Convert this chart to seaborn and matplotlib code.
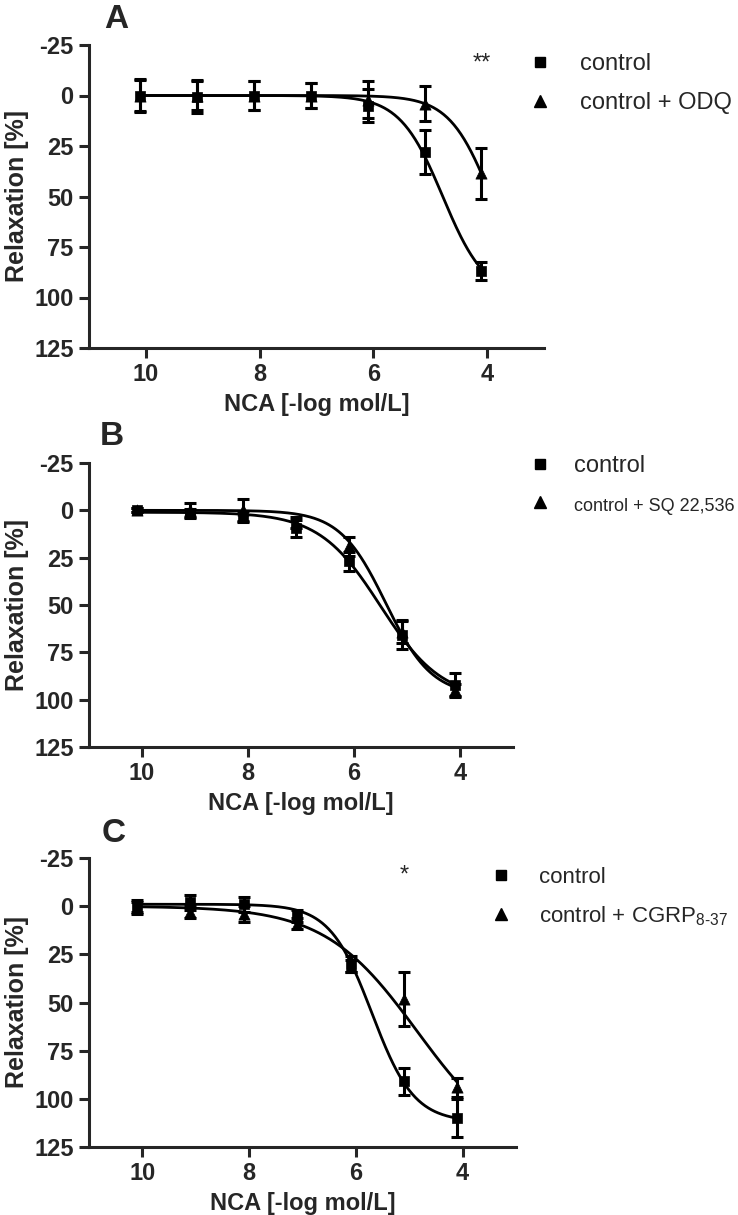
import numpy as np
import pandas as pd
import matplotlib
matplotlib.use("Agg")
import matplotlib.pyplot as plt
from matplotlib.lines import Line2D
import seaborn as sns

sns.set_style("ticks")
plt.rcParams['font.family'] = ['Liberation Sans', 'DejaVu Sans']
plt.rcParams['mathtext.fontset'] = 'custom'
plt.rcParams['mathtext.rm'] = 'Liberation Sans'
plt.rcParams['axes.unicode_minus'] = False

# doses, -log mol/L
dose = [10.1, 9.1, 8.1, 7.1, 6.1, 5.1, 4.1]

# panel A: control vs control + ODQ
a_ctrl = [0, 0.5, 0, 0, 5, 28, 87]
a_ctrl_err = [7.5, 8, 7, 6, 8, 11, 4.5]
a_trt = [0, 0, 0, 0, 2, 4, 38.5]
a_trt_err = [8, 7, 7, 6, 9, 8.5, 12.5]

# panel B: control vs control + SQ 22,536
b_ctrl = [0, 1.5, 3, 9.5, 27, 66, 92]
b_ctrl_err = [1, 2, 2.5, 4.5, 5, 7.5, 6]
b_trt = [0, 0, 0, 6.5, 19, 64, 95]
b_trt_err = [1, 4, 6, 3, 5, 6, 3.5]

# panel C: control vs control + CGRP8-37
c_ctrl = [0, -2, -1, 5, 30, 91, 110]
c_ctrl_err = [3, 4, 4, 3, 4, 7, 10]
c_trt = [1, 3, 4, 9, 31, 48, 94]
c_trt_err = [3, 3, 4, 3, 3, 14, 5]

# sigmoid fits: top, bottom, pEC50, hill
a_ctrl_fit = [0, 100, 4.78, 1.15]
a_trt_fit = [0, 100, 3.93, 1.18]
b_ctrl_fit = [1, 100, 5.5, 0.75]
b_trt_fit = [0, 98, 5.4, 1.0]
c_ctrl_fit = [-1, 112, 5.7, 1.1]
c_trt_fit = [0, 130, 4.85, 0.5]

labels_a = ["control", "control + ODQ"]
labels_b = ["control", "control + SQ 22,536"]
labels_c = ["control", "control + CGRP$_{\\mathregular{8\u201037}}$"]

W, H = 738, 1215
fig = plt.figure(figsize=(W / 100, H / 100), dpi=100)


def px_axes(l, t, r, b):
    return fig.add_axes([l / W, 1 - b / H, (r - l) / W, (b - t) / H])


def sigmoid(x, p):
    top, bottom, pec, hill = p
    return top + (bottom - top) / (1 + 10 ** ((x - pec) * hill))


def panel(ax, y1, e1, y2, e2, f1, f2):
    xs = np.linspace(dose[0], dose[-1], 300)
    for f in (f1, f2):
        curve = pd.DataFrame({"x": xs, "y": sigmoid(xs, f)})
        sns.lineplot(data=curve, x="x", y="y", ax=ax, color="k", lw=2.0,
                     sort=False, estimator=None)
    for y, e, m, s in ((y1, e1, "s", 55), (y2, e2, "^", 65)):
        ax.errorbar(dose, y, yerr=e, fmt="none", ecolor="k", elinewidth=2.2,
                    capsize=4.5, capthick=2.2, zorder=3)
        sns.scatterplot(x=dose, y=y, ax=ax, marker=m, s=s, color="k",
                        edgecolor="k", linewidth=0.5, zorder=4)
    ax.set_xlim(11, 3)
    ax.set_ylim(125, -25)
    ax.set_xticks([10, 8, 6, 4])
    ax.set_yticks([-25, 0, 25, 50, 75, 100, 125])
    sns.despine(ax=ax)
    for sp in ("left", "bottom"):
        ax.spines[sp].set_linewidth(2.2)
    ax.tick_params(width=2.2, length=7, labelsize=17, pad=4)
    for t in ax.get_xticklabels() + ax.get_yticklabels():
        t.set_fontweight("bold")
    ax.set_xlabel("NCA [-log mol/L]", fontsize=17, fontweight="bold", labelpad=5)
    ax.set_ylabel("Relaxation [%]", fontsize=18, fontweight="bold", labelpad=4)


def legend(labels, x, y, size=17, second_size=None, textpad=1.2):
    handles = [Line2D([], [], marker="s", ls="", color="k", ms=7.5),
               Line2D([], [], marker="^", ls="", color="k", ms=8)]
    leg = fig.legend(handles, labels, loc="upper left",
                     bbox_to_anchor=(x / W, 1 - y / H), frameon=False,
                     fontsize=size, handlelength=1.0, handletextpad=textpad,
                     labelspacing=0.72, borderpad=0, borderaxespad=0)
    if second_size:
        leg.get_texts()[1].set_fontsize(second_size)
    return leg


ax_a = px_axes(89, 45, 544, 348)
panel(ax_a, a_ctrl, a_ctrl_err, a_trt, a_trt_err, a_ctrl_fit, a_trt_fit)
ax_a.text(4.1, -16, "**", ha="center", va="center", fontsize=17)
legend(labels_a, 528, 53)

ax_b = px_axes(89, 463, 513, 747)
panel(ax_b, b_ctrl, b_ctrl_err, b_trt, b_trt_err, b_ctrl_fit, b_trt_fit)
legend(labels_b, 528, 455, second_size=13, textpad=0.95)

ax_c = px_axes(89, 858, 516, 1147)
panel(ax_c, c_ctrl, c_ctrl_err, c_trt, c_trt_err, c_ctrl_fit, c_trt_fit)
ax_c.text(5.1, -16, "*", ha="center", va="center", fontsize=17)
legend(labels_c, 490, 867, size=16)

for letter, x, y in (("A", 116, 20), ("B", 112, 437), ("C", 114, 833)):
    fig.text(x / W, 1 - y / H, letter, ha="center", va="center",
             fontsize=24, fontweight="bold")

fig.savefig("out.png", dpi=100)
